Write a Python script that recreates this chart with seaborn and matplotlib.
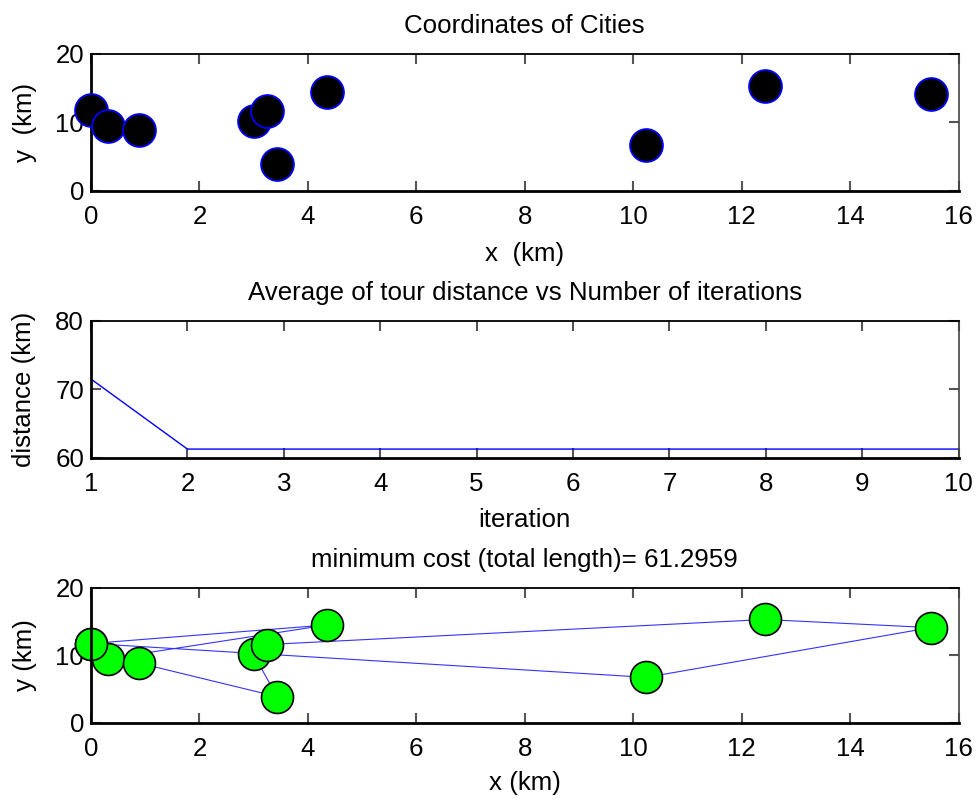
import numpy as np
import pandas as pd
import matplotlib
matplotlib.use("Agg")
import matplotlib.pyplot as plt
import seaborn as sns

# ---- data ----
city_x = [0.00, 0.32, 0.89, 3.00, 3.25, 3.43, 4.36, 10.24, 12.43, 15.49]
city_y = [11.75, 9.5, 8.85, 10.15, 11.6, 3.9, 14.5, 6.75, 15.3, 14.1]
iterations = [1, 2, 3, 4, 5, 6, 7, 8, 9, 10]
avg_distance = [71.5, 61.3, 61.3, 61.3, 61.3, 61.3, 61.3, 61.3, 61.3, 61.3]
tour_order = [0, 6, 1, 2, 5, 3, 4, 8, 9, 7, 0]
min_cost = 61.2959

sns.set_theme(style="white")
plt.rcParams["font.family"] = ["Liberation Sans", "DejaVu Sans"]
plt.rcParams["text.color"] = "black"
plt.rcParams["axes.labelcolor"] = "black"
FS = 18.6

W, H = 977, 799
fig = plt.figure(figsize=(W / 100, H / 100), dpi=100)

def add_ax(top, bottom, left=91, right=958.5):
    return fig.add_axes([left / W, 1 - bottom / H, (right - left) / W, (bottom - top) / H])

ax1 = add_ax(54, 190.7)
ax2 = add_ax(320.7, 458)
ax3 = add_ax(587.7, 723)

def style(ax):
    for s in ["left", "bottom", "top"]:
        ax.spines[s].set_color("black")
        ax.spines[s].set_visible(True)
    ax.spines["left"].set_linewidth(2.0)
    ax.spines["bottom"].set_linewidth(2.0)
    ax.spines["top"].set_linewidth(1.3)
    ax.spines["right"].set_visible(True)
    ax.spines["right"].set_color("#444444")
    ax.spines["right"].set_linewidth(1.2)
    ax.tick_params(axis="both", which="major", direction="in", length=7, width=1.5,
                   colors="#555555", labelcolor="black", labelsize=FS,
                   top=True, right=True, bottom=True, left=True)
    ax.tick_params(axis="x", pad=10)
    ax.tick_params(axis="y", pad=5)
    ax.grid(False)

# ---- panel 1: coordinates ----
df_c = pd.DataFrame({"x": city_x, "y": city_y})
sns.scatterplot(data=df_c, x="x", y="y", ax=ax1, s=560, color="black",
                edgecolor="blue", linewidth=1.3, zorder=3)
ax1.set_xlim(0, 16)
ax1.set_ylim(0, 20)
ax1.set_xticks(range(0, 17, 2))
ax1.set_yticks([0, 10, 20])
ax1.set_title("Coordinates of Cities", fontsize=FS, pad=15)
ax1.set_xlabel("x  (km)", fontsize=FS, labelpad=10)
ax1.set_ylabel("y  (km)", fontsize=FS, labelpad=13)
for c in ax1.collections:
    c.set_clip_on(False)
style(ax1)

# ---- panel 2: average distance ----
df_d = pd.DataFrame({"iteration": iterations, "distance": avg_distance})
sns.lineplot(data=df_d, x="iteration", y="distance", ax=ax2, color="blue", linewidth=1.0)
ax2.set_xlim(1, 10)
ax2.set_ylim(60, 80)
ax2.set_xticks(iterations)
ax2.set_yticks([60, 70, 80])
ax2.set_title("Average of tour distance vs Number of iterations", fontsize=FS, pad=15)
ax2.set_xlabel("iteration", fontsize=FS, labelpad=9)
ax2.set_ylabel("distance (km)", fontsize=FS, labelpad=14)
style(ax2)

# ---- panel 3: best tour ----
df_t = pd.DataFrame({"x": [city_x[i] for i in tour_order],
                     "y": [city_y[i] for i in tour_order],
                     "step": range(len(tour_order))})
sns.lineplot(data=df_t, x="x", y="y", ax=ax3, sort=False, estimator=None,
             color="#3333ff", linewidth=0.8, marker="o", markersize=23,
             markerfacecolor=(0, 1, 0), markeredgecolor="black", markeredgewidth=1.2)
ax3.set_xlim(0, 16)
ax3.set_ylim(0, 20)
ax3.set_xticks(range(0, 17, 2))
ax3.set_yticks([0, 10, 20])
ax3.set_title(f"minimum cost (total length)= {min_cost}", fontsize=FS, pad=15)
ax3.set_xlabel("x (km)", fontsize=FS, labelpad=7)
ax3.set_ylabel("y (km)", fontsize=FS, labelpad=13)
for l in ax3.lines:
    l.set_clip_on(False)
style(ax3)

fig.savefig("out.png", dpi=100)
